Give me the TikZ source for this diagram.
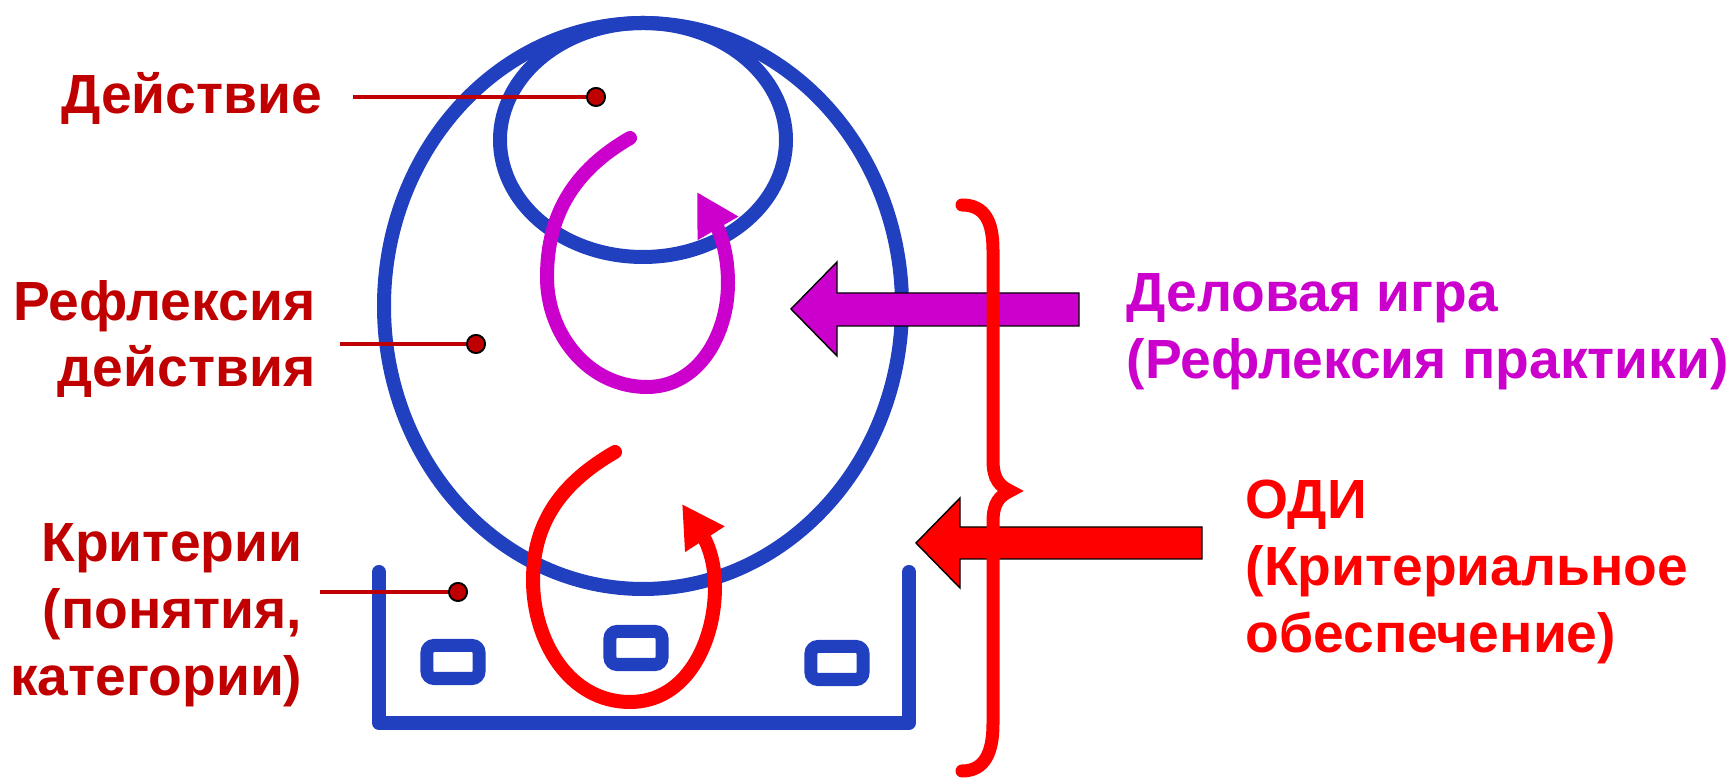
\documentclass[tikz,border=0pt]{standalone}
\usepackage{fontspec}
\setmainfont{Liberation Sans}
\usetikzlibrary{arrows.meta}
\definecolor{csiniy}{HTML}{2040C0}
\definecolor{cfiolet}{HTML}{CC00CC}
\definecolor{ckrasn}{HTML}{FF0000}
\definecolor{cbordo}{HTML}{C00000}
\tikzset{
  kontur/.style={draw=csiniy, line width=0.14cm, line cap=round, line join=round},
  yacheyka/.style={rectangle, rounded corners=2pt, draw=csiniy, line width=0.13cm,
    minimum width=0.52cm, minimum height=0.33cm, inner sep=0pt},
  petlya/.style={line width=0.14cm, line cap=round, -{Triangle[length=0.42cm, width=0.44cm]}},
  blok/.style={draw=black, line width=0.4pt},
  skobka/.style={draw=ckrasn, line width=0.13cm, line cap=round},
  metka/.style={font=\fontsize{15.7pt}{19pt}\selectfont\bfseries, inner sep=0pt},
  vyvod/.style={draw=cbordo, line width=1.4pt},
  tochka/.style={circle, fill=cbordo, draw=black, line width=0.5pt, minimum size=0.18cm, inner sep=0pt},
}
\begin{document}
\begin{tikzpicture}[x=0.01cm, y=0.01cm]
  \useasboundingbox (0,0) rectangle (1735,782);
  % circles and container
  \draw[kontur] (643,476) ellipse [x radius=259, y radius=283];
  \draw[kontur] (643,642) ellipse [x radius=143, y radius=117];
  \draw[kontur] (379,210) -- (379,59) -- (909,59) -- (909,210);
  \node[yacheyka] (k1) at (453,120) {};
  \node[yacheyka] (k2) at (636,134) {};
  \node[yacheyka] (k3) at (837,119) {};
  % loops
  \draw[petlya, cfiolet] (630,644) to[out=210,in=90] (547,505) to[out=-90,in=180] (647,395)
    to[out=0,in=-90] (728,499) to[out=90,in=-60] (697,590);
  \draw[petlya, ckrasn] (615,330) to[out=210,in=90] (533,202) to[out=-90,in=180] (630,80)
    to[out=0,in=-90] (715,195) to[out=90,in=-57] (682,278);
  % block arrows
  \draw[blok, fill=cfiolet] (791,473) -- (837,520) -- (837,489) -- (1079,489)
    -- (1079,456) -- (837,456) -- (837,426) -- cycle;
  \draw[blok, fill=ckrasn] (916,239) -- (960,284) -- (960,255) -- (1202,255)
    -- (1202,223) -- (960,223) -- (960,194) -- cycle;
  % brace
  \draw[skobka] (962,577) .. controls (985,577) and (993,560) .. (993,532) -- (993,322)
    .. controls (993,302) and (1000,296) .. (1010,291)
    .. controls (1000,286) and (993,280) .. (993,260) -- (993,58)
    .. controls (993,30) and (985,11) .. (962,11);
  % labels
  \node[tochka] (dAct) at (596,685) {};
  \node[tochka] (dRef) at (476,438) {};
  \node[tochka] (dCrit) at (458,190) {};
  \coordinate (sAct) at (353,685);
  \coordinate (sRef) at (340,438);
  \coordinate (sCrit) at (320,190);
  \draw[vyvod] (sAct) -- (dAct);
  \draw[vyvod] (sRef) -- (dRef);
  \draw[vyvod] (sCrit) -- (dCrit);
  \node[tochka] at (dAct) {};
  \node[tochka] at (dRef) {};
  \node[tochka] at (dCrit) {};
  \node[metka, text=cbordo, anchor=east] (lAct) at (323,684) {Действие};
  \node[metka, text=cbordo, anchor=east, align=right] (lRef) at (316,443) {Рефлексия\\действия};
  \node[metka, text=cbordo, anchor=east, align=right] (lCrit) at (303,167) {Критерии\\(понятия,\\категории)};
  \node[metka, text=cfiolet, anchor=west, align=left] (lIgra) at (1126,450) {Деловая игра\\(Рефлексия практики)};
  \node[metka, text=ckrasn, anchor=west, align=left] (lOdi) at (1245,210) {ОДИ\\(Критериальное\\обеспечение)};
\end{tikzpicture}
\end{document}
